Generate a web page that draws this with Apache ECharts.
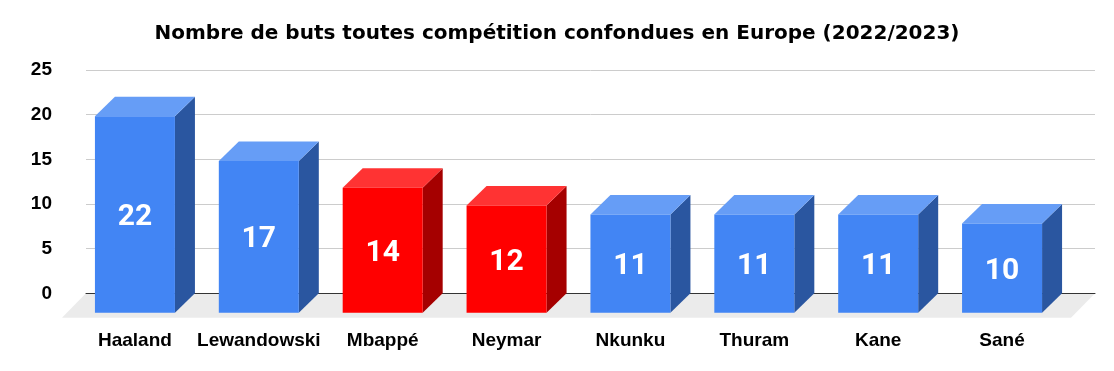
<!DOCTYPE html>
<html>
<head>
<meta charset="utf-8">
<script src="https://cdn.jsdelivr.net/npm/echarts@6/dist/echarts.min.js"></script>
<style>
html,body{margin:0;padding:0;background:#fff;}
#chart{width:1114px;height:371px;}
</style>
</head>
<body>
<div id="chart"></div>
<script>
const players = ['Haaland', 'Lewandowski', 'Mbappé', 'Neymar', 'Nkunku', 'Thuram', 'Kane', 'Sané'];
const goals = [22, 17, 14, 12, 11, 11, 11, 10];
const highlighted = ['Mbappé', 'Neymar'];
const yTicks = [0, 5, 10, 15, 20, 25];
const titleText = 'Nombre de buts toutes compétition confondues en Europe (2022/2023)';

const palette = {
  blue: { front: '#4285F4', top: '#669DF6', side: '#2A56A0' },
  red: { front: '#FF0000', top: '#FF3333', side: '#A50000' }
};
const DX = 20, DY = 19.5, BAR_W = 80;
const FDX = 24, FDY = 24.5;
const font = '"Liberation Sans", Arial, sans-serif';

const chart = echarts.init(document.getElementById('chart'), null, { renderer: 'canvas' });

const option = {
  animation: false,
  backgroundColor: '#ffffff',
  title: {
    text: titleText,
    left: 'center',
    top: 24,
    padding: 0,
    textStyle: { fontFamily: '"DejaVu Sans", sans-serif', fontSize: 20, fontWeight: 'bold', color: '#000000' }
  },
  grid: [
    { left: 86, right: 19, top: 70, bottom: 77.7 },
    { left: 73, right: 50, top: 70, bottom: 77.7 }
  ],
  xAxis: [
    {
      gridIndex: 0, type: 'value', min: 0, max: 1, z: 2,
      axisLine: { show: true, lineStyle: { color: '#333333', width: 1 } },
      axisTick: { show: false }, axisLabel: { show: false }, splitLine: { show: false }
    },
    {
      gridIndex: 1, type: 'category', data: players,
      axisLine: { show: false }, axisTick: { show: false }, splitLine: { show: false },
      axisLabel: { margin: 38, fontFamily: font, fontSize: 19, fontWeight: 'bold', color: '#000000', interval: 0 }
    }
  ],
  yAxis: [
    {
      gridIndex: 0, type: 'value', min: yTicks[0], max: yTicks[yTicks.length - 1], interval: 5,
      axisLine: { show: false }, axisTick: { show: false },
      axisLabel: { margin: 34, fontFamily: font, fontSize: 19, fontWeight: 'bold', color: '#000000' },
      splitLine: { show: true, lineStyle: { color: '#CCCCCC', width: 1 } }
    },
    {
      gridIndex: 1, type: 'value', min: yTicks[0], max: yTicks[yTicks.length - 1], interval: 5,
      show: false, splitLine: { show: false }
    }
  ],
  series: [
    {
      type: 'custom',
      xAxisIndex: 0, yAxisIndex: 0, z: 1, silent: true,
      data: [[0, 0]],
      renderItem: function (params, api) {
        const p0 = api.coord([0, 0]);
        const p1 = api.coord([1, 0]);
        return {
          type: 'polygon',
          shape: { points: [[p0[0], p0[1]], [p1[0], p1[1]], [p1[0] - FDX, p1[1] + FDY], [p0[0] - FDX, p0[1] + FDY]] },
          style: { fill: '#EBEBEB' }
        };
      }
    },
    {
      type: 'custom',
      xAxisIndex: 1, yAxisIndex: 1, z: 3,
      data: goals.map((g, i) => [i, g]),
      renderItem: function (params, api) {
        const i = api.value(0);
        const v = api.value(1);
        const top = api.coord([i, v]);
        const base = api.coord([i, 0]);
        const cx = top[0];
        const x0 = cx - BAR_W / 2, x1 = cx + BAR_W / 2;
        const yt = top[1] + DY, yb = base[1] + DY;
        const c = highlighted.indexOf(players[i]) >= 0 ? palette.red : palette.blue;
        return {
          type: 'group',
          children: [
            { type: 'polygon', shape: { points: [[x1, yt], [x1 + DX, yt - DY], [x1 + DX, yb - DY], [x1, yb]] }, style: { fill: c.side } },
            { type: 'polygon', shape: { points: [[x0, yt], [x0 + DX, yt - DY], [x1 + DX, yt - DY], [x1, yt]] }, style: { fill: c.top } },
            { type: 'rect', shape: { x: x0, y: yt, width: BAR_W, height: yb - yt }, style: { fill: c.front } },
            { type: 'text', style: { text: String(v), x: cx, y: (yt + yb) / 2 + 3, align: 'center', verticalAlign: 'middle',
              fill: '#FFFFFF', font: 'bold 30px Roboto, "Liberation Sans", sans-serif' } }
          ]
        };
      }
    }
  ]
};
chart.setOption(option);
</script>
</body>
</html>
